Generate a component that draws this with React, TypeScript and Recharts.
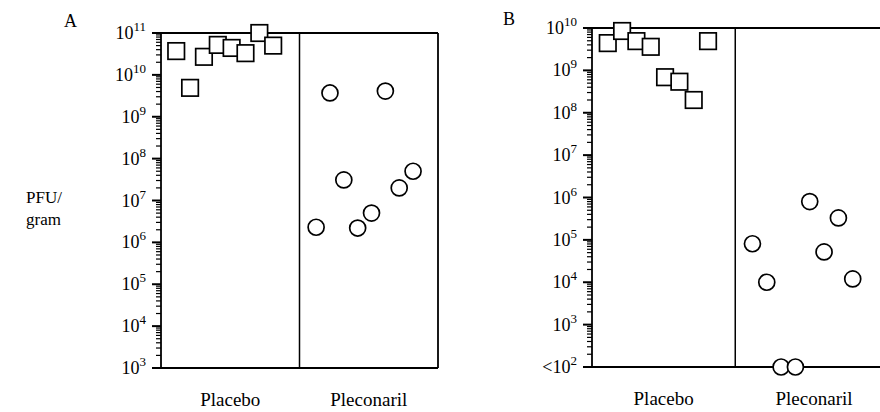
import { ScatterChart, Scatter, XAxis, YAxis, ReferenceLine } from "recharts";

// PFU per gram; points are plotted in the order they sit left to right
const placeboA = [3.7e10, 4.9e9, 2.7e10, 5.2e10, 4.4e10, 3.3e10, 1e11, 5e10];
const pleconarilA = [2.3e6, 3.7e9, 3.1e7, 2.2e6, 5e6, 4.1e9, 2e7, 5e7];

// in panel B, 1e2 stands for "<10^2" (below detection)
const placeboB = [4.4e9, 8.5e9, 4.9e9, 3.6e9, 6.9e8, 5.4e8, 2e8, 4.9e9];
const pleconarilB = [8.1e4, 1e4, 1e2, 1e2, 8e5, 5.2e4, 3.3e5, 1.2e4];

const groups = ["Placebo", "Pleconaril"];
const majorTicksA = [1e3, 1e4, 1e5, 1e6, 1e7, 1e8, 1e9, 1e10, 1e11];
const majorTicksB = [1e2, 1e3, 1e4, 1e5, 1e6, 1e7, 1e8, 1e9, 1e10];

const FONT = "'Liberation Serif', 'Times New Roman', serif";
const LINE = 1.8;

const withMinor = (majors: number[]) => {
  const out: number[] = [];
  majors.forEach((m, i) => {
    out.push(m);
    if (i < majors.length - 1) for (let k = 2; k <= 9; k++) out.push(m * k);
  });
  return out;
};

const toPoints = (vals: number[], start: number) =>
  vals.map((v, i) => ({ x: start + i, y: v }));

const Square = (props: any) => {
  const { cx, cy } = props;
  if (cx == null || cy == null) return null;
  const s = 16.5;
  return (
    <rect
      x={cx - s / 2}
      y={cy - s / 2}
      width={s}
      height={s}
      fill="#fff"
      stroke="#000"
      strokeWidth={1.7}
    />
  );
};

const Ring = (props: any) => {
  const { cx, cy } = props;
  if (cx == null || cy == null) return null;
  return <circle cx={cx} cy={cy} r={8} fill="#fff" stroke="#000" strokeWidth={1.7} />;
};

const makeLogTick = (lowest: number, lessThan: boolean) => (props: any) => {
  const { x, y, payload } = props;
  const v = payload.value;
  const lg = Math.log10(v);
  const exp = Math.round(lg);
  const major = Math.abs(lg - exp) < 1e-6;
  return (
    <g>
      <line
        x1={x - (major ? 9 : 5)}
        x2={x}
        y1={y}
        y2={y}
        stroke="#000"
        strokeWidth={major ? 2 : 1.2}
      />
      {major && (
        <text
          x={x - 15}
          y={y + 6}
          textAnchor="end"
          fontFamily={FONT}
          fontSize={18}
          fill="#000"
        >
          {lessThan && v === lowest ? "<10" : "10"}
          <tspan dy={-8} fontSize={13}>
            {exp}
          </tspan>
        </text>
      )}
    </g>
  );
};

const GroupTick = (props: any) => {
  const { x, y, payload } = props;
  return (
    <text
      x={x}
      y={y + 38}
      textAnchor="middle"
      fontFamily={FONT}
      fontSize={19}
      fill="#000"
    >
      {payload.value < 10 ? groups[0] : groups[1]}
    </text>
  );
};

interface PanelProps {
  placebo: number[];
  pleconaril: number[];
  majors: number[];
  lessThan: boolean;
  width: number;
  plotLeft: number;
  plotTop: number;
  plotBottom: number;
  plotRight: number;
  xMax: number;
  groupTicks: number[];
  rightBorder: boolean;
}

const Y_W = 60;

function Panel({
  placebo,
  pleconaril,
  majors,
  lessThan,
  width,
  plotLeft,
  plotTop,
  plotBottom,
  plotRight,
  xMax,
  groupTicks,
  rightBorder,
}: PanelProps) {
  const lo = majors[0];
  const hi = majors[majors.length - 1];
  const xH = 412 - plotBottom;
  return (
    <ScatterChart
      width={width}
      height={412}
      margin={{ top: plotTop, right: width - plotRight, bottom: 0, left: plotLeft - Y_W }}
    >
      <XAxis
        type="number"
        dataKey="x"
        domain={[0, xMax]}
        ticks={groupTicks}
        interval={0}
        height={xH}
        tickSize={0}
        tickMargin={0}
        tickLine={false}
        axisLine={{ stroke: "#000", strokeWidth: LINE }}
        tick={<GroupTick />}
      />
      <YAxis
        type="number"
        dataKey="y"
        scale="log"
        domain={[lo, hi]}
        ticks={withMinor(majors)}
        interval={0}
        width={Y_W}
        tickSize={0}
        tickMargin={0}
        tickLine={false}
        axisLine={{ stroke: "#000", strokeWidth: LINE }}
        tick={makeLogTick(lo, lessThan)}
      />
      <ReferenceLine y={hi} stroke="#000" strokeWidth={LINE} />
      <ReferenceLine x={10} stroke="#000" strokeWidth={1.5} />
      {rightBorder && <ReferenceLine x={xMax} stroke="#000" strokeWidth={LINE} />}
      <Scatter
        data={toPoints(placebo, 1.1)}
        shape={<Square />}
        isAnimationActive={false}
      />
      <Scatter
        data={toPoints(pleconaril, 11.2)}
        shape={<Ring />}
        isAnimationActive={false}
      />
    </ScatterChart>
  );
}

export default function App() {
  const label: React.CSSProperties = {
    position: "absolute",
    fontFamily: FONT,
    fontSize: 18,
    color: "#000",
    lineHeight: "20px",
  };
  return (
    <div
      style={{
        position: "relative",
        width: 880,
        height: 412,
        overflow: "hidden",
        background: "#fff",
      }}
    >
      <style>{`body{margin:0}`}</style>
      <div style={{ position: "absolute", left: 0, top: 0 }}>
        <Panel
          placebo={placeboA}
          pleconaril={pleconarilA}
          majors={majorTicksA}
          lessThan={false}
          width={460}
          plotLeft={161}
          plotTop={33}
          plotBottom={368}
          plotRight={438}
          xMax={20}
          groupTicks={[5, 15]}
          rightBorder={true}
        />
      </div>
      <div style={{ position: "absolute", left: 0, top: 0 }}>
        <Panel
          placebo={placeboB}
          pleconaril={pleconarilB}
          majors={majorTicksB}
          lessThan={true}
          width={920}
          plotLeft={592}
          plotTop={28}
          plotBottom={367}
          plotRight={900}
          xMax={21.5}
          groupTicks={[5, 15.5]}
          rightBorder={false}
        />
      </div>
      <div style={{ ...label, left: 64, top: 11 }}>A</div>
      <div style={{ ...label, left: 503, top: 9 }}>B</div>
      <div style={{ ...label, left: 26, top: 187, fontSize: 17, lineHeight: "22px" }}>
        PFU/
        <br />
        gram
      </div>
    </div>
  );
}
